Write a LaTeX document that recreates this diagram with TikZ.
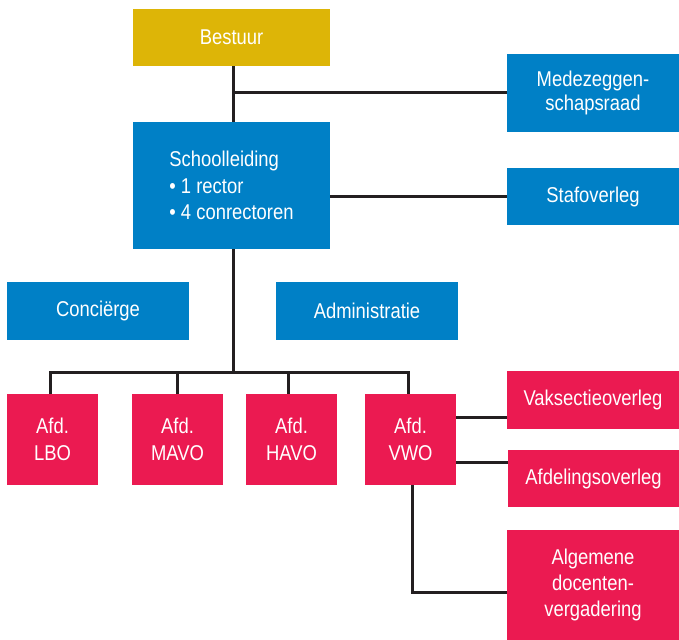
\documentclass[tikz,border=0pt]{standalone}
\usepackage{fontspec}
\setmainfont{Liberation Sans}[FakeStretch=0.86]
\definecolor{gold}{HTML}{DDB507}
\definecolor{blauw}{HTML}{0080C6}
\definecolor{rood}{HTML}{EB1A51}
\definecolor{lijn}{HTML}{231F20}
\begin{document}
\begin{tikzpicture}[x=1bp,y=-1bp,
  box/.style={rectangle, inner sep=0pt, text=white, align=center,
    font=\fontsize{21.5}{26.5}\selectfont},
  goldbox/.style={box, fill=gold},
  bluebox/.style={box, fill=blauw},
  redbox/.style={box, fill=rood},
  conn/.style={draw=lijn, line width=3bp}]
\useasboundingbox (0,0) rectangle (679,640);
% top
\node[goldbox, minimum width=197bp, minimum height=57bp] (bestuur) at (231.5,37.5) {Bestuur};
\node[bluebox, minimum width=172bp, minimum height=78bp, font=\fontsize{21.5}{24}\selectfont] (mzr) at (593,93) {Medezeggen-\\schapsraad};
\node[bluebox, minimum width=197bp, minimum height=127bp] (school) at (231.5,185.5) {};
\node[box, align=left, anchor=center] (schooltxt) at (school.center) {Schoolleiding\\\textbullet{} 1 rector\\\textbullet{} 4 conrectoren};
\node[bluebox, minimum width=172bp, minimum height=57bp] (staf) at (593,196.5) {Stafoverleg};
% middle
\node[bluebox, minimum width=182bp, minimum height=58bp] (conc) at (98,311) {Conciërge};
\node[bluebox, minimum width=182bp, minimum height=58bp] (admin) at (367,311) {Administratie};
% departments
\node[redbox, minimum width=91bp, minimum height=91bp] (lbo) at (52.5,439.5) {Afd.\\LBO};
\node[redbox, minimum width=91bp, minimum height=91bp] (mavo) at (177.5,439.5) {Afd.\\MAVO};
\node[redbox, minimum width=91bp, minimum height=91bp] (havo) at (291.5,439.5) {Afd.\\HAVO};
\node[redbox, minimum width=91bp, minimum height=91bp] (vwo) at (410.5,439.5) {Afd.\\VWO};
% right side
\node[redbox, minimum width=172bp, minimum height=58bp] (vak) at (593,400) {Vaksectieoverleg};
\node[redbox, minimum width=171bp, minimum height=57bp] (afdo) at (593.5,478.5) {Afdelingsoverleg};
\node[redbox, minimum width=172bp, minimum height=110bp] (alg) at (593,585) {Algemene\\docenten-\\vergadering};
% connectors
\coordinate (mzrj) at (233,93);
\coordinate (bus) at (233,372);
\draw[conn] ([xshift=1.5bp]bestuur.south) -- ([xshift=1.5bp]school.north);
\draw[conn] (mzrj) -- (mzr.west |- mzrj);
\draw[conn] (school.east |- staf.west) -- (staf.west);
\draw[conn] ([xshift=1.5bp]school.south) -- (bus);
\draw[conn] ([xshift=-2.5bp]lbo.north) |- (bus) -| ([xshift=-2.5bp]vwo.north);
\draw[conn] (mavo.north) -- (mavo.north |- bus);
\draw[conn] ([xshift=-3bp]havo.north) -- ([xshift=-3bp]havo.north |- bus);
\coordinate (vakj) at (456,417);
\coordinate (afdj) at (456,462);
\draw[conn] (vakj) -- (vak.west |- vakj);
\draw[conn] (afdj) -- (afdo.west |- afdj);
\draw[conn] ([xshift=1.5bp]vwo.south) |- (alg.west |- 0,592);
\end{tikzpicture}
\end{document}
